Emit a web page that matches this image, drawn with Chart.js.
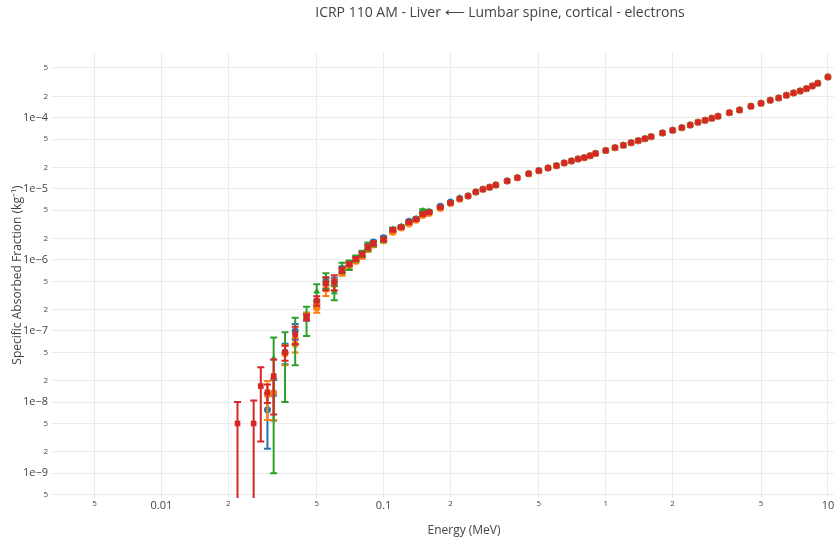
<!DOCTYPE html>
<html>
<head>
<meta charset="utf-8">
<title>ICRP 110 AM - Liver ⟵ Lumbar spine, cortical - electrons</title>
<script src="https://cdn.jsdelivr.net/npm/chart.js@4.4.1/dist/chart.umd.min.js"></script>
<style>
  html, body { margin: 0; padding: 0; background: #fff; overflow: hidden; }
  #wrap { width: 838px; height: 543px; }
</style>
</head>
<body>
<div id="wrap"><canvas id="safChart" width="838" height="543"></canvas></div>
<script>
// Energy grid (MeV)
const energyMeV = [
  0.022, 0.026, 0.028, 0.030, 0.032, 0.036, 0.040, 0.045, 0.050, 0.055,
  0.060, 0.065, 0.070, 0.075, 0.080, 0.085, 0.090, 0.10, 0.11, 0.12,
  0.13, 0.14, 0.15, 0.16, 0.18, 0.20, 0.22,
  0.24, 0.26, 0.28, 0.30, 0.32, 0.36, 0.40, 0.45, 0.50, 0.55,
  0.60, 0.65, 0.70, 0.75, 0.80, 0.85, 0.90, 1.0, 1.1, 1.2,
  1.3, 1.4, 1.5, 1.6, 1.8, 2.0, 2.2, 2.4, 2.6, 2.8,
  3.0, 3.2, 3.6, 4.0, 4.5, 5.0, 5.5, 6.0, 6.5, 7.0,
  7.5, 8.0, 8.5, 9.0, 10
];

// SAF values (kg^-1) where all four series overlap (0.24 MeV and up)
const safShared = [
  7.92e-6, 9.02e-6, 9.84e-6, 1.05e-5, 1.13e-5, 1.29e-5, 1.43e-5, 1.63e-5, 1.80e-5, 1.96e-5,
  2.11e-5, 2.31e-5, 2.46e-5, 2.62e-5, 2.74e-5, 2.92e-5, 3.14e-5, 3.45e-5, 3.79e-5, 4.09e-5,
  4.45e-5, 4.75e-5, 5.07e-5, 5.41e-5, 6.10e-5, 6.65e-5, 7.23e-5, 7.89e-5, 8.61e-5, 9.19e-5,
  9.81e-5, 1.047e-4, 1.175e-4, 1.282e-4, 1.445e-4, 1.595e-4, 1.758e-4, 1.893e-4, 2.065e-4, 2.224e-4,
  2.375e-4, 2.56e-4, 2.79e-4, 3.05e-4, 3.73e-4
];

// Low energy part (0.022 - 0.22 MeV), one per series
const safBlueLow = [
  null, null, null, 7.8e-9, 1.3e-8, 5.0e-8, 1.0e-7, 1.6e-7, 2.4e-7, 5.0e-7,
  5.0e-7, 7.5e-7, 8.9e-7, 1.05e-6, 1.22e-6, 1.55e-6, 1.78e-6, 2.05e-6, 2.60e-6, 2.90e-6,
  3.50e-6, 3.75e-6, 4.60e-6, 4.70e-6, 5.70e-6, 6.50e-6, 7.30e-6
];
const safOrangeLow = [
  null, null, null, 1.27e-8, 1.35e-8, 4.8e-8, 6.5e-8, 1.65e-7, 2.1e-7, 3.9e-7,
  4.5e-7, 6.6e-7, 8.2e-7, 9.6e-7, 1.12e-6, 1.40e-6, 1.62e-6, 1.86e-6, 2.45e-6, 2.80e-6,
  3.20e-6, 3.60e-6, 4.20e-6, 4.50e-6, 5.30e-6, 6.20e-6, 7.10e-6
];
const safGreenLow = [
  null, null, null, null, 4.1e-8, 5.3e-8, 9.35e-8, 1.52e-7, 3.6e-7, 5.2e-7,
  3.5e-7, 7.8e-7, 8.5e-7, 1.05e-6, 1.22e-6, 1.55e-6, 1.70e-6, 1.92e-6, 2.70e-6, 2.92e-6,
  3.35e-6, 3.75e-6, 4.90e-6, 4.85e-6, 5.50e-6, 6.30e-6, 7.40e-6
];
const safRedLow = [
  5.0e-9, 5.0e-9, 1.68e-8, 1.37e-8, 2.32e-8, 5.0e-8, 9.0e-8, 1.56e-7, 2.67e-7, 4.7e-7,
  4.9e-7, 7.2e-7, 8.75e-7, 1.03e-6, 1.20e-6, 1.51e-6, 1.71e-6, 1.95e-6, 2.64e-6, 2.88e-6,
  3.38e-6, 3.73e-6, 4.42e-6, 4.67e-6, 5.50e-6, 6.31e-6, 7.26e-6
];

// Statistical uncertainty (absolute, kg^-1), zero / missing above
const errBlue = [
  0, 0, 0, 5.6e-9, 7.5e-9, 1.6e-8, 2.5e-8, 2.0e-8, 3.0e-8, 6.0e-8,
  6.0e-8, 6.0e-8, 6.0e-8, 6.0e-8, 8.0e-8, 1.0e-7, 1.0e-7, 1.0e-7, 1.2e-7, 1.0e-7,
  1.0e-7, 1.0e-7, 1.5e-7, 1.5e-7, 1.0e-7, 1.0e-7
];
const errOrange = [
  0, 0, 0, 7.1e-9, 8.0e-9, 1.5e-8, 1.5e-8, 1.5e-8, 3.0e-8, 8.0e-8,
  8.0e-8, 6.0e-8, 6.0e-8, 6.0e-8, 8.0e-8, 1.0e-7, 1.0e-7, 1.0e-7, 1.2e-7, 1.0e-7,
  1.0e-7, 1.0e-7, 1.5e-7, 1.5e-7, 1.0e-7, 1.0e-7
];
const errGreen = [
  0, 0, 0, 0, 4.0e-8, 4.3e-8, 6.05e-8, 6.7e-8, 9.5e-8, 1.3e-7,
  8.0e-8, 1.3e-7, 1.3e-7, 1.0e-7, 1.2e-7, 2.0e-7, 1.5e-7, 1.2e-7, 1.6e-7, 1.2e-7,
  1.2e-7, 1.5e-7, 2.5e-7, 2.0e-7, 1.5e-7, 1.5e-7
];
const errRed = [
  5.0e-9, 5.5e-9, 1.4e-8, 4.0e-9, 1.65e-8, 1.2e-8, 2.5e-8, 1.5e-8, 4.0e-8, 1.0e-7,
  1.2e-7, 6.0e-8, 5.0e-8, 6.0e-8, 8.0e-8, 1.2e-7, 1.0e-7, 1.0e-7, 1.2e-7, 1.0e-7,
  1.0e-7, 1.0e-7, 2.5e-7, 1.5e-7, 1.0e-7, 1.0e-7
];

// Axis ticks
const xTickValues = [0.005, 0.01, 0.02, 0.05, 0.1, 0.2, 0.5, 1, 2, 5, 10];
const xTickLabels = ['5', '0.01', '2', '5', '0.1', '2', '5', '1', '2', '5', '10'];
const yTickValues = [5e-10, 1e-9, 2e-9, 5e-9, 1e-8, 2e-8, 5e-8, 1e-7, 2e-7, 5e-7,
  1e-6, 2e-6, 5e-6, 1e-5, 2e-5, 5e-5, 1e-4, 2e-4, 5e-4];
const yTickLabels = ['5', '1e\u22129', '2', '5', '1e\u22128', '2', '5', '1e\u22127', '2', '5',
  '1e\u22126', '2', '5', '1e\u22125', '2', '5', '1e\u22124', '2', '5'];

const chartTitle = 'ICRP 110 AM - Liver \u27F5 Lumbar spine, cortical - electrons';
const xTitle = 'Energy (MeV)';
const yTitle = 'Specific Absorbed Fraction (kg\u207B\u00B9)';

const FONT = '"Open Sans", verdana, arial, sans-serif';

// Build {x, y} points and matching errors, skipping empty values
function buildPoints(lowValues, errors) {
  const values = lowValues.concat(safShared);
  const points = [];
  const errs = [];
  energyMeV.forEach((e, i) => {
    if (values[i] == null) return;
    points.push({ x: e, y: values[i] });
    errs.push(errors[i] || 0);
  });
  return { points, errs };
}

// Draws vertical error bars under the markers of each dataset
const errorBarPlugin = {
  id: 'errorBars',
  beforeDatasetDraw(chart, args) {
    const ds = chart.data.datasets[args.index];
    if (!ds.errors) return;
    const { ctx, chartArea } = chart;
    const xs = chart.scales.x;
    const ys = chart.scales.y;
    const cap = 3.5;
    ctx.save();
    ctx.beginPath();
    ctx.rect(chartArea.left, chartArea.top, chartArea.width, chartArea.height);
    ctx.clip();
    ctx.strokeStyle = ds.borderColor;
    ctx.lineWidth = 2;
    ds.data.forEach((pt, i) => {
      const err = ds.errors[i];
      if (!err) return;
      const px = xs.getPixelForValue(pt.x);
      const top = ys.getPixelForValue(pt.y + err);
      const low = pt.y - err;
      const bottom = low > 0 ? ys.getPixelForValue(low) : chartArea.bottom + 10;
      ctx.beginPath();
      ctx.moveTo(px, top);
      ctx.lineTo(px, bottom);
      ctx.moveTo(px - cap, top);
      ctx.lineTo(px + cap, top);
      if (low > 0) {
        ctx.moveTo(px - cap, bottom);
        ctx.lineTo(px + cap, bottom);
      }
      ctx.stroke();
    });
    ctx.restore();
  }
};

// Title and axis titles, placed like the original figure
const titlesPlugin = {
  id: 'titles',
  afterDraw(chart) {
    const ctx = chart.ctx;
    ctx.save();
    ctx.fillStyle = '#444';
    ctx.textAlign = 'center';
    ctx.textBaseline = 'middle';
    ctx.font = '14px ' + FONT;
    ctx.fillText(chartTitle, 500, 13);
    ctx.font = '12px ' + FONT;
    ctx.fillText(xTitle, 464, 531);
    ctx.translate(18, 275);
    ctx.rotate(-Math.PI / 2);
    ctx.fillText(yTitle, 0, 0);
    ctx.restore();
  }
};

// order: lower number is drawn on top, so red ends up above the others
function makeDataset(label, color, lowValues, errors, style, radius, order) {
  const built = buildPoints(lowValues, errors);
  return {
    label: label,
    data: built.points,
    errors: built.errs,
    backgroundColor: color,
    borderColor: color,
    borderWidth: 0,
    pointStyle: style,
    pointRadius: radius,
    pointHoverRadius: radius,
    showLine: false,
    order: order
  };
}

document.addEventListener('DOMContentLoaded', function() {
  const ctx = document.getElementById('safChart').getContext('2d');

  new Chart(ctx, {
    type: 'scatter',
    data: {
      datasets: [
        makeDataset('blue', '#1f77b4', safBlueLow, errBlue, 'circle', 3.5, 3),
        makeDataset('orange', '#ff7f0e', safOrangeLow, errOrange, 'circle', 3.5, 2),
        makeDataset('green', '#2ca02c', safGreenLow, errGreen, 'triangle', 4, 1),
        makeDataset('red', '#d62728', safRedLow, errRed, 'rect', 4, 0)
      ]
    },
    options: {
      responsive: false,
      animation: false,
      devicePixelRatio: 1,
      layout: { padding: { top: 52, right: 0, bottom: 0, left: 0 } },
      plugins: {
        legend: { display: false },
        title: { display: false },
        tooltip: { enabled: false }
      },
      scales: {
        x: {
          type: 'logarithmic',
          bounds: 'data',
          min: Math.pow(10, -2.4926),
          max: Math.pow(10, 1.0273),
          afterBuildTicks: (scale) => {
            scale.ticks = xTickValues.map(v => ({ value: v }));
          },
          afterFit: (scale) => { scale.height = 45; },
          grid: { color: '#ebebeb', lineWidth: 1, drawTicks: false },
          border: { display: false },
          ticks: {
            autoSkip: false,
            maxRotation: 0,
            padding: 1,
            color: '#444',
            font: (c) => ({ family: FONT, size: xTickLabels[c.index] && xTickLabels[c.index].length > 1 ? 11 : 8 }),
            callback: (value, index) => xTickLabels[index]
          }
        },
        y: {
          type: 'logarithmic',
          bounds: 'data',
          min: Math.pow(10, -9.349),
          max: Math.pow(10, -3.076),
          afterBuildTicks: (scale) => {
            scale.ticks = yTickValues.map(v => ({ value: v }));
          },
          afterFit: (scale) => { scale.width = 52; },
          grid: { color: '#ebebeb', lineWidth: 1, drawTicks: false },
          border: { display: false },
          ticks: {
            autoSkip: false,
            padding: 4,
            color: '#444',
            font: (c) => ({ family: FONT, size: yTickLabels[c.index] && yTickLabels[c.index].length > 1 ? 11 : 8 }),
            callback: (value, index) => yTickLabels[index]
          }
        }
      }
    },
    plugins: [errorBarPlugin, titlesPlugin]
  });
});
</script>
</body>
</html>
